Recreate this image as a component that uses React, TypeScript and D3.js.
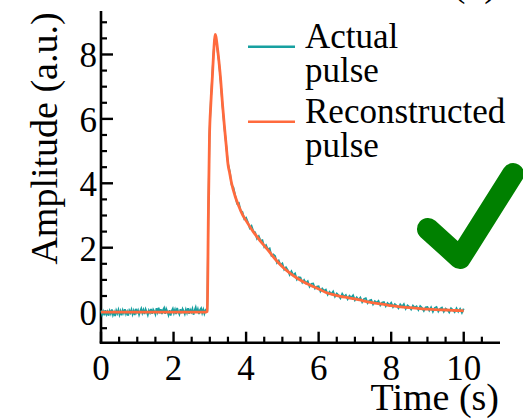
import React from "react";
import * as d3 from "d3";

// Reconstructed pulse (smooth), [time s, amplitude a.u.]
const reconstructedPulse: [number, number][] = [
  [0, 0], [1, 0], [2, 0], [2.9, 0], [2.93, 0.02], [2.96, 3.0], [2.99, 5.4], [3.03, 6.5],
  [3.07, 7.3], [3.1, 7.95], [3.13, 8.45], [3.15, 8.62], [3.17, 8.55], [3.21, 8.2], [3.25, 7.8],
  [3.3, 7.2], [3.35, 6.45], [3.4, 5.8], [3.45, 5.2], [3.5, 4.6], [3.55, 4.3], [3.6, 4.0],
  [3.7, 3.59], [3.8, 3.29], [3.9, 3.03], [4.0, 2.84], [4.2, 2.49], [4.4, 2.2], [4.6, 1.93],
  [4.8, 1.65], [5.0, 1.41], [5.2, 1.22], [5.4, 1.06], [5.6, 0.93], [5.8, 0.82], [6.0, 0.72],
  [6.2, 0.61], [6.4, 0.54], [6.6, 0.49], [6.8, 0.45], [7.0, 0.41], [7.2, 0.36], [7.4, 0.31],
  [7.6, 0.27], [7.8, 0.24], [8.0, 0.2], [8.2, 0.17], [8.4, 0.15], [8.6, 0.13], [8.8, 0.11],
  [9.0, 0.09], [9.2, 0.08], [9.4, 0.07], [9.6, 0.06], [9.8, 0.05], [10, 0.04],
];

// Actual (measured, noisy) pulse, [time s, amplitude a.u.]
const actualPulse: [number, number][] = [
  [0.0, 0.05], [0.03, -0.08], [0.06, 0.02], [0.09, -0.1], [0.12, 0.06], [0.15, -0.07], [0.18, 0.01],
  [0.21, -0.11], [0.24, 0.04], [0.27, -0.05], [0.3, 0.08], [0.33, -0.09], [0.36, 0.0], [0.39, -0.12],
  [0.42, 0.05], [0.45, -0.04], [0.48, 0.07], [0.51, -0.08], [0.54, 0.03], [0.57, -0.1], [0.6, 0.06],
  [0.63, -0.03], [0.66, 0.09], [0.69, -0.06], [0.72, 0.02], [0.75, -0.11], [0.78, 0.05], [0.81, -0.02],
  [0.84, 0.08], [0.87, -0.07], [0.9, 0.04], [0.93, -0.09], [0.96, 0.1], [0.99, -0.01], [1.02, 0.06],
  [1.05, -0.08], [1.08, 0.03], [1.11, 0.11], [1.14, -0.03], [1.17, 0.07], [1.2, -0.06], [1.23, 0.09],
  [1.26, 0.01], [1.29, -0.09], [1.32, 0.05], [1.35, -0.02], [1.38, 0.1], [1.41, -0.05], [1.44, 0.08],
  [1.47, 0.02], [1.5, -0.07], [1.53, 0.12], [1.56, 0.0], [1.59, 0.14], [1.62, -0.04], [1.65, 0.09],
  [1.68, -0.06], [1.71, 0.07], [1.74, 0.13], [1.77, -0.05], [1.8, 0.1], [1.83, 0.02], [1.86, -0.09],
  [1.89, 0.06], [1.92, -0.11], [1.95, 0.04], [1.98, 0.11], [2.01, -0.03], [2.04, 0.08], [2.07, -0.06],
  [2.1, 0.13], [2.13, 0.01], [2.16, -0.07], [2.19, 0.09], [2.22, -0.04], [2.25, 0.1], [2.28, 0.03],
  [2.31, -0.06], [2.34, 0.08], [2.37, -0.02], [2.4, 0.12], [2.43, -0.05], [2.46, 0.07], [2.49, 0.0],
  [2.52, 0.1], [2.55, -0.08], [2.58, 0.06], [2.61, 0.15], [2.64, -0.02], [2.67, 0.09], [2.7, -0.06],
  [2.73, 0.07], [2.76, 0.12], [2.79, -0.03], [2.82, 0.08], [2.85, -0.05], [2.88, 0.06], [2.91, 0.02],
  [2.93, 0.05], [2.96, 3.1], [2.99, 5.5], [3.03, 6.6], [3.07, 7.4], [3.1, 8.0], [3.13, 8.45],
  [3.15, 8.55], [3.17, 8.5], [3.21, 8.15], [3.25, 7.8], [3.3, 7.15], [3.35, 6.4], [3.4, 5.75],
  [3.45, 5.2], [3.5, 4.62],
  [3.55, 4.37], [3.6, 3.95], [3.65, 3.87], [3.7, 3.62], [3.75, 3.37], [3.8, 3.39], [3.85, 3.15],
  [3.9, 3.11], [3.95, 2.89], [4.0, 2.93], [4.05, 2.79], [4.1, 2.61], [4.15, 2.68], [4.2, 2.51],
  [4.25, 2.48], [4.3, 2.28], [4.35, 2.36], [4.4, 2.21], [4.45, 2.23], [4.5, 2.02], [4.55, 2.08],
  [4.6, 1.95], [4.65, 1.98], [4.7, 1.75], [4.75, 1.79], [4.8, 1.74], [4.85, 1.53], [4.9, 1.6],
  [4.95, 1.46], [5.0, 1.51], [5.05, 1.32], [5.1, 1.39], [5.15, 1.3], [5.2, 1.16], [5.25, 1.27],
  [5.3, 1.15], [5.35, 1.2], [5.4, 1.01], [5.45, 1.08], [5.5, 1.07], [5.55, 0.92], [5.6, 1.0],
  [5.65, 0.9], [5.7, 0.96], [5.75, 0.79], [5.8, 0.88], [5.85, 0.89], [5.9, 0.73], [5.95, 0.79],
  [6.0, 0.8], [6.05, 0.64], [6.1, 0.73], [6.15, 0.66], [6.2, 0.7], [6.25, 0.54], [6.3, 0.63],
  [6.35, 0.56], [6.4, 0.64], [6.45, 0.48], [6.5, 0.58], [6.55, 0.52], [6.6, 0.43], [6.65, 0.57],
  [6.7, 0.48], [6.75, 0.53], [6.8, 0.4], [6.85, 0.51], [6.9, 0.45], [6.95, 0.52], [7.0, 0.37],
  [7.05, 0.46], [7.1, 0.38], [7.15, 0.45], [7.2, 0.31], [7.25, 0.41], [7.3, 0.43], [7.35, 0.28],
  [7.4, 0.36], [7.45, 0.38], [7.5, 0.24], [7.55, 0.34], [7.6, 0.29], [7.65, 0.35], [7.7, 0.21],
  [7.75, 0.3], [7.8, 0.31], [7.85, 0.18], [7.9, 0.28], [7.95, 0.22], [8.0, 0.29], [8.05, 0.16],
  [8.1, 0.25], [8.15, 0.2], [8.2, 0.12], [8.25, 0.24], [8.3, 0.17], [8.35, 0.25], [8.4, 0.1],
  [8.45, 0.21], [8.5, 0.16], [8.55, 0.08], [8.6, 0.2], [8.65, 0.14], [8.7, 0.18], [8.75, 0.07],
  [8.8, 0.19], [8.85, 0.13], [8.9, 0.04], [8.95, 0.15], [9.0, 0.16], [9.05, 0.05], [9.1, 0.15],
  [9.15, 0.01], [9.2, 0.13], [9.25, 0.16], [9.3, 0.02], [9.35, 0.11], [9.4, 0.14], [9.45, 0.01],
  [9.5, 0.11], [9.55, 0.07], [9.6, -0.01], [9.65, 0.12], [9.7, 0.07], [9.75, 0.0], [9.8, 0.12],
  [9.85, 0.01], [9.9, 0.1], [9.95, -0.02], [10.0, 0.11],
];

const xTickLabels = [0, 2, 4, 6, 8, 10];
const yTickLabels = [0, 2, 4, 6, 8];
const legendLabels = [["Actual", "pulse"], ["Reconstructed", "pulse"]];
const xTitle = "Time (s)";
const yTitle = "Amplitude (a.u.)";
const panelLabel = "(b)";

const W = 523;
const H = 419;
const FONT = '"Liberation Serif"';
const TEAL = "#17a0a0";
const ORANGE = "#ff6a3d";
const GREEN = "#008000";

export default function App() {
  const x = d3.scaleLinear().domain([0, 11]).range([101, 500]);
  const y = d3.scaleLinear().domain([-0.95, 9.35]).range([342.7, 11]);

  const line = d3
    .line<[number, number]>()
    .x((d) => x(d[0]))
    .y((d) => y(d[1]));
  const smooth = d3
    .line<[number, number]>()
    .x((d) => x(d[0]))
    .y((d) => y(d[1]))
    .curve(d3.curveMonotoneX);

  const xMinor = d3.range(0, 11, 0.5).filter((v) => !xTickLabels.includes(v));
  const yMinor = d3.range(-0.5, 9.01, 0.5).filter((v) => !yTickLabels.includes(v));

  const x0 = x(0);
  const yBase = y(-0.95);
  const colors = [TEAL, ORANGE];
  const ts = { fontFamily: FONT };

  return (
    <svg
      width={W}
      height={H}
      style={{ position: "absolute", left: 0, top: 0, background: "#fff" }}
    >
      <rect width={W} height={H} fill="#fff" />

      {/* axes */}
      <line x1={x0} x2={x0} y1={y(9.35)} y2={yBase} stroke="#000" strokeWidth={2.6} />
      <line x1={x0 - 1.3} x2={x(11)} y1={yBase} y2={yBase} stroke="#000" strokeWidth={2.6} />
      {yTickLabels.map((v) => (
        <g key={"yt" + v}>
          <line x1={x0} x2={x0 + 12} y1={y(v)} y2={y(v)} stroke="#000" strokeWidth={2.4} />
          <text x={x0 - 4} y={y(v) + 13} fontSize={35} textAnchor="end" style={ts}>
            {v}
          </text>
        </g>
      ))}
      {yMinor.map((v) => (
        <line key={"ym" + v} x1={x0} x2={x0 + 6} y1={y(v)} y2={y(v)} stroke="#000" strokeWidth={2.2} />
      ))}
      {xTickLabels.map((v) => (
        <g key={"xt" + v}>
          <line x1={x(v)} x2={x(v)} y1={yBase} y2={yBase - 11} stroke="#000" strokeWidth={2.4} />
          <text x={x(v)} y={380} fontSize={35} textAnchor="middle" style={ts}>
            {v}
          </text>
        </g>
      ))}
      {xMinor.map((v) => (
        <line key={"xm" + v} x1={x(v)} x2={x(v)} y1={yBase} y2={yBase - 6} stroke="#000" strokeWidth={2.2} />
      ))}

      {/* data */}
      <path d={line(actualPulse) || ""} fill="none" stroke={TEAL} strokeWidth={1.8} />
      <path d={smooth(reconstructedPulse) || ""} fill="none" stroke={ORANGE} strokeWidth={2.8} strokeLinejoin="round" />

      {/* titles */}
      <text x={499} y={410} fontSize={38} textAnchor="end" style={ts}>
        {xTitle}
      </text>
      <text transform="translate(57,138.5) rotate(-90)" fontSize={38} textAnchor="middle" style={ts}>
        {yTitle}
      </text>
      <text x={497} y={-4} fontSize={38} textAnchor="end" style={ts}>
        {panelLabel}
      </text>

      {/* legend */}
      {legendLabels.map((lines, i) => (
        <g key={"lg" + i}>
          <line x1={248} x2={295} y1={46.7 + i * 75} y2={46.7 + i * 75} stroke={colors[i]} strokeWidth={2.4} />
          {lines.map((t, j) => (
            <text key={j} x={305} y={48.3 + i * 75 + j * 34} fontSize={35} style={ts}>
              {t}
            </text>
          ))}
        </g>
      ))}

      {/* check mark */}
      <polyline
        points="428,229 460,258 513,174"
        fill="none"
        stroke={GREEN}
        strokeWidth={22}
        strokeLinecap="round"
        strokeLinejoin="round"
      />
    </svg>
  );
}
